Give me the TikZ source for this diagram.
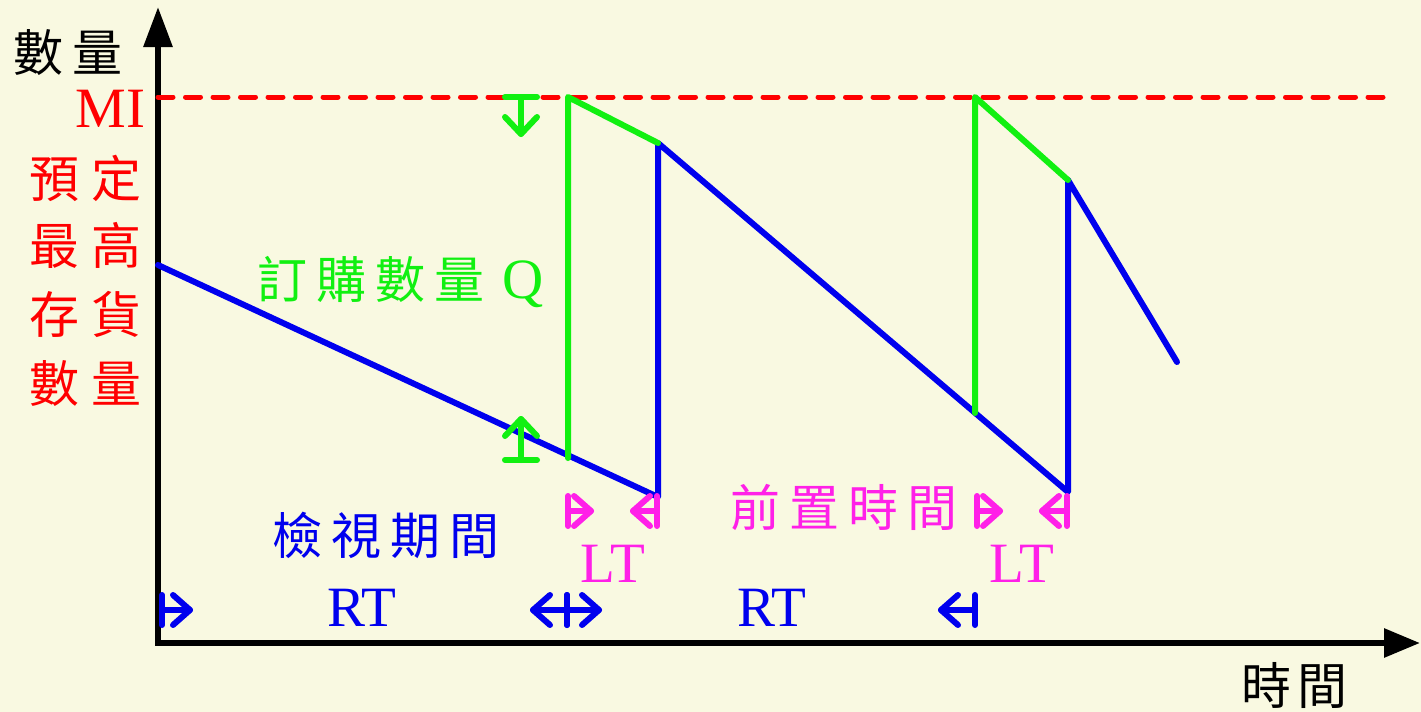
\documentclass[tikz,border=0pt]{standalone}
\usepackage{fontspec}
\setmainfont{Liberation Serif}
\newfontfamily\cjk{Noto Sans CJK TC}
\usetikzlibrary{arrows.meta}
\definecolor{bg}{HTML}{F9F9E1}
\definecolor{gr}{HTML}{11F011}
\definecolor{bl}{HTML}{0000EE}
\definecolor{rd}{HTML}{FF0000}
\definecolor{mg}{HTML}{FF20E8}
\tikzset{
  axis/.style={line width=3pt,black,{Triangle[length=20pt,width=14pt]}-{Triangle[length=18pt,width=14pt]}},
  mline/.style={line width=3pt,line cap=round,line join=round},
  barline/.style={line width=3pt,line cap=round,line join=round},
  cjkt/.style={font=\cjk\fontsize{25}{25}\selectfont,inner sep=0pt},
  lat/.style={font=\fontsize{28.5}{28.5}\selectfont,inner sep=0pt},
}
\newcommand\ks{\kern4.5pt}
% horizontal marker: colour, start (bar), end (tip), direction (1 right, -1 left)
\newcommand\mkh[4]{%
  \draw[barline,#1] (#2) -- (#3);
  \draw[barline,#1] ([shift={(0,-15)}]#2) -- ([shift={(0,15)}]#2);
  \draw[barline,#1] ([shift={({-17*(#4)},-15)}]#3) -- (#3) -- ([shift={({-17*(#4)},15)}]#3);}
% vertical marker: direction (1 down, -1 up) in picture rows
\newcommand\mkv[4]{%
  \draw[barline,#1] (#2) -- (#3);
  \draw[barline,#1] ([shift={(-16,0)}]#2) -- ([shift={(16,0)}]#2);
  \draw[barline,#1] ([shift={(-16,{-17*(#4)})}]#3) -- (#3) -- ([shift={(16,{-17*(#4)})}]#3);}
\begin{document}
\begin{tikzpicture}[x=0.5pt,y=-0.5pt]
\fill[bg] (0,0) rectangle (1421,712);
\useasboundingbox (0,0) rectangle (1421,712);
% axes
\coordinate (O) at (158,643);
\coordinate (Ytip) at (158,7);
\coordinate (Xtip) at (1420,643);
\draw[axis,line join=miter] (Ytip) -- (O) -- (Xtip);
% MI line
\coordinate (MIa) at (158,97);
\coordinate (MIb) at (1390,97);
\draw[rd,line width=2.5pt,line cap=round,dash pattern=on 7.5pt off 6.25pt] (MIa) -- (MIb);
% blue stock line
\coordinate (B0) at (158,265);
\coordinate (B1) at (658,497);
\coordinate (B2) at (658,143);
\coordinate (B3) at (1068,492);
\coordinate (B4) at (1068,180);
\coordinate (B5) at (1177,362);
\draw[mline,bl] (B0) -- (B1) -- (B2) -- (B3) -- (B4) -- (B5);
% green order lines
\coordinate (G0) at (568,458);
\coordinate (G1) at (568,97);
\coordinate (G3) at (975,413);
\coordinate (G4) at (975,97);
\draw[mline,gr] (G0) -- (G1) -- (B2);
\draw[mline,gr] (G3) -- (G4) -- (B4);
% green Q markers
\coordinate (Qa) at (521,97);
\coordinate (Qb) at (521,134);
\coordinate (Qc) at (521,460);
\coordinate (Qd) at (521,419);
\mkv{gr}{Qa}{Qb}{1}
\mkv{gr}{Qc}{Qd}{-1}
% magenta LT markers
\coordinate (L1a) at (568,511);
\coordinate (L1b) at (591,511);
\coordinate (L2a) at (657,511);
\coordinate (L2b) at (633,511);
\coordinate (L3a) at (977,511);
\coordinate (L3b) at (1000,511);
\coordinate (L4a) at (1067,511);
\coordinate (L4b) at (1042,511);
\mkh{mg}{L1a}{L1b}{1}
\mkh{mg}{L2a}{L2b}{-1}
\mkh{mg}{L3a}{L3b}{1}
\mkh{mg}{L4a}{L4b}{-1}
% blue RT markers
\coordinate (R1a) at (162,610);
\coordinate (R1b) at (190,610);
\coordinate (R2l) at (533,610);
\coordinate (R2c) at (567,610);
\coordinate (R2r) at (599,610);
\coordinate (R3a) at (975,610);
\coordinate (R3b) at (941,610);
\mkh{bl}{R1a}{R1b}{1}
\mkh{bl}{R2c}{R2l}{-1}
\mkh{bl}{R2c}{R2r}{1}
\mkh{bl}{R3a}{R3b}{-1}
% texts
\node[cjkt,anchor=west] (ylab) at (13,53) {數\ks 量};
\node[cjkt,anchor=west] (xlab) at (1241,685) {時\kern3pt 間};
\node[lat,rd,anchor=east] (mi) at (146,109) {MI};
\node[cjkt,rd] (r1) at (86,178) {預\kern6pt 定};
\node[cjkt,rd] (r2) at (86,245) {最\kern6pt 高};
\node[cjkt,rd] (r3) at (86,314) {存\kern6pt 貨};
\node[cjkt,rd] (r4) at (86,384) {數\kern6pt 量};
\node[cjkt,gr,anchor=west] (q) at (257,282) {訂\ks 購\ks 數\ks 量\ks\ks\fontspec{Liberation Serif}\fontsize{28.5}{28.5}\selectfont Q};
\node[cjkt,bl,anchor=west] (rv) at (272,535) {檢\ks 視\ks 期\ks 間};
\node[cjkt,mg,anchor=west] (lt) at (730,507) {前\ks 置\ks 時\ks 間};
\node[lat,mg] (lt1) at (613,564) {LT};
\node[lat,mg] (lt2) at (1022,564) {LT};
\node[lat,bl] (rt1) at (362,608) {RT};
\node[lat,bl] (rt2) at (772,608) {RT};
\end{tikzpicture}
\end{document}
